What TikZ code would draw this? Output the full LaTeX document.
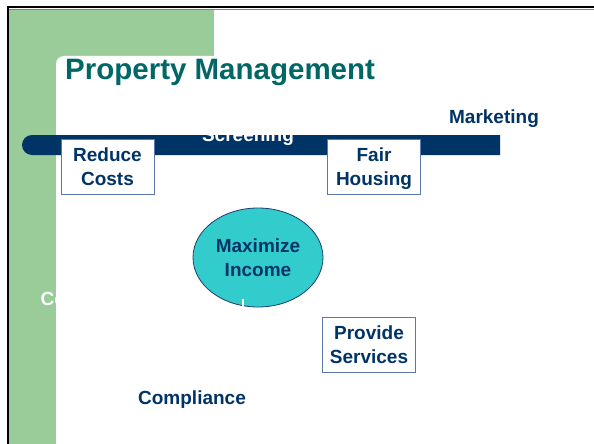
\documentclass[tikz,border=0pt]{standalone}
\usepackage{fontspec}
\setmainfont{Liberation Sans}
\usetikzlibrary{shapes.geometric}
\definecolor{sidegreen}{RGB}{153,204,153}
\definecolor{titleteal}{RGB}{0,102,102}
\definecolor{navy}{RGB}{0,51,102}
\definecolor{boxedge}{RGB}{90,120,170}
\definecolor{oval}{RGB}{51,204,204}
\definecolor{ovaledge}{RGB}{31,60,110}
\tikzset{
  lbl/.style={text=navy, font=\bfseries\fontsize{19}{24}\selectfont, inner sep=0pt},
  topicbox/.style={lbl, draw=boxedge, line width=1pt, fill=white,
    minimum width=93pt, minimum height=55pt, align=center},
  goal/.style={lbl, ellipse, draw=ovaledge, line width=0.8pt, fill=oval,
    minimum width=130pt, minimum height=99pt, align=center},
  stub/.style={draw=white, line width=1.3pt}
}
\newcommand{\nodepth}[1]{\raisebox{0pt}[\height][0pt]{#1}}
\begin{document}
\begin{tikzpicture}[x=1pt,y=-1pt]
\useasboundingbox (0,0) rectangle (594,444);
% slide background and frame
\fill[white] (0,0) rectangle (594,444);
\fill[sidegreen] (9,9) rectangle (214,444);
\fill[white, rounded corners=8pt] (56,56) rectangle (620,480);
\draw[black, line width=2.5pt] (7,7.2) -- (594,7.2);
\draw[gray, line width=0.8pt] (9,9.2) -- (594,9.2);
\draw[black, line width=2.5pt] (7.8,6) -- (7.8,444);
% side label (white on green)
\node[anchor=base west, text=white, font=\bfseries\fontsize{19}{24}\selectfont, inner sep=0pt] (side) at (40.5,305) {Co};
\fill[white] (56,285) rectangle (70,312);
% title
\node[anchor=base west, text=titleteal, font=\bfseries\fontsize{29.5}{36}\selectfont, inner sep=0pt] (title) at (65,79) {Property Management};
% dark bar
\fill[navy] (500,135) -- (32,135) arc[start angle=270, end angle=90, radius=10] -- (500,155) -- cycle;
\node[lbl, text=white, anchor=base] (screen) at (248,141) {Screening};
\fill[white] (190,118) rectangle (310,135);
% topics
\node[topicbox] (reduce) at (107.5,166.5) {Reduce\\Costs};
\node[topicbox] (fair) at (374,166.5) {Fair\\\nodepth{Housing}};
\node[topicbox] (serv) at (369,344.5) {Provide\\Services};
\node[goal] (income) at (258,257.5) {Maximize\\Income};
\node[lbl, anchor=base] (mkt) at (494,123) {Marketing};
\node[lbl, anchor=base] (comp) at (192,404) {Compliance};
% white connector stubs
\coordinate (rc) at (107.5,202);
\coordinate (sv) at (368,310);
\coordinate (ib) at (243,299);
\draw[stub] (reduce.south) -- (rc);
\draw[stub] (serv.north) -- (sv);
\draw[stub] (ib) -- (income.south -| ib);
\end{tikzpicture}
\end{document}
